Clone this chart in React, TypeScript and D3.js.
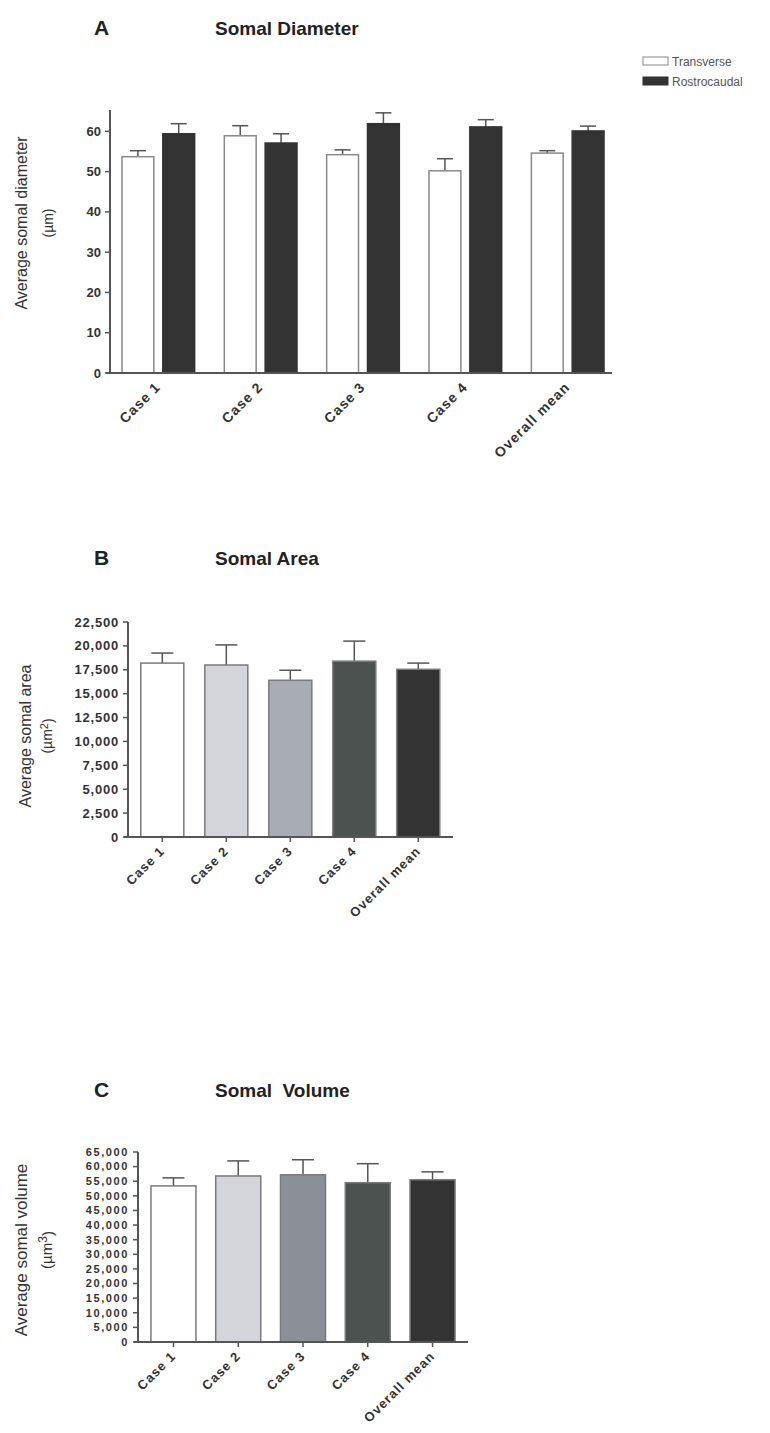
import React from 'react';
import * as d3 from 'd3';

// categories and series
const cases = ['Case 1', 'Case 2', 'Case 3', 'Case 4', 'Overall mean'];
const diameterSeries = ['Transverse', 'Rostrocaudal'];

// panel A: somal diameter (µm), mean and upper error (SEM)
const diameterTransverse = [53.7, 58.9, 54.2, 50.2, 54.6];
const diameterTransverseErr = [1.5, 2.5, 1.2, 3.0, 0.6];
const diameterRostro = [59.4, 57.1, 61.9, 61.1, 60.1];
const diameterRostroErr = [2.5, 2.3, 2.7, 1.8, 1.2];
const diameterTicks = [0, 10, 20, 30, 40, 50, 60];

// panel B: somal area (µm²)
const areaMeans = [18200, 18000, 16400, 18400, 17550];
const areaErr = [1050, 2100, 1050, 2100, 650];
const areaTicks = [0, 2500, 5000, 7500, 10000, 12500, 15000, 17500, 20000, 22500];

// panel C: somal volume (µm³)
const volumeMeans = [53400, 56800, 57200, 54500, 55500];
const volumeErr = [2750, 5150, 5150, 6500, 2700];
const volumeTicks = [0, 5000, 10000, 15000, 20000, 25000, 30000, 35000, 40000, 45000, 50000, 55000, 60000, 65000];

const diameterColors = ['#ffffff', '#333333'];
const areaColors = ['#ffffff', '#d4d5db', '#a8acb3', '#4b5250', '#333333'];
const volumeColors = ['#ffffff', '#d4d5db', '#8b9096', '#4b5250', '#333333'];

const FONT = '"Liberation Sans", Arial, Helvetica, sans-serif';
const AXIS = '#555';
const fmt = d3.format(',');

type PanelProps = {
  letter: string;
  title: string;
  titleY: number;
  axisX: number;
  y0: number;
  yTop: number;
  yMax: number;
  xEnd: number;
  ticks: number[];
  tickSize: number;
  tickSpacing: number;
  label: string;
  unitSup: string;
  labelX: number;
  labelY: number;
  unitX: number;
  labelSize: number;
  xLabelSize: number;
  xTicks: boolean;
};

const Frame = ({ p, x, children }: { p: PanelProps; x: d3.ScaleBand<string>; children: React.ReactNode }) => {
  const y = d3.scaleLinear().domain([0, p.yMax]).range([p.y0, p.yTop]);
  return (
    <g>
      <text x={94} y={p.titleY} fontSize={21} fontWeight="bold" fill="#222">{p.letter}</text>
      <text x={215} y={p.titleY} fontSize={19} fontWeight="bold" fill="#222" xmlSpace="preserve">{p.title}</text>
      {children}
      {/* y axis */}
      <line x1={p.axisX} x2={p.axisX} y1={p.y0} y2={p.yTop} stroke={AXIS} strokeWidth={2} />
      {p.ticks.map(t => (
        <g key={t} transform={`translate(${p.axisX},${y(t)})`}>
          <line x1={-5} x2={0} stroke={AXIS} strokeWidth={1.5} />
          <text x={-9} dy="0.35em" textAnchor="end" fontSize={p.tickSize} fontWeight="bold"
            letterSpacing={p.tickSpacing} fill="#333">{fmt(t)}</text>
        </g>
      ))}
      {/* x axis */}
      <line x1={p.axisX - 4} x2={p.xEnd} y1={p.y0} y2={p.y0} stroke={AXIS} strokeWidth={2} />
      {x.domain().map(c => {
        const cx = (x(c) ?? 0) + x.bandwidth() / 2;
        return (
          <g key={c}>
            {p.xTicks && <line x1={cx} x2={cx} y1={p.y0} y2={p.y0 + 5} stroke={AXIS} strokeWidth={1.5} />}
            <text transform={`translate(${cx + 3},${p.y0 + 15}) rotate(-45)`} textAnchor="end"
              fontSize={p.xLabelSize} fontWeight="bold" letterSpacing={1} fill="#333">{c}</text>
          </g>
        );
      })}
      {/* axis title */}
      <text transform={`translate(${p.labelX},${p.labelY}) rotate(-90)`} textAnchor="middle"
        fontSize={p.labelSize} fill="#333">{p.label}</text>
      <text transform={`translate(${p.unitX},${p.labelY}) rotate(-90)`} textAnchor="middle"
        fontSize={p.labelSize - 2} fill="#333">
        (µm{p.unitSup && <tspan dy="-0.4em" fontSize={p.labelSize - 5}>{p.unitSup}</tspan>}
        {p.unitSup ? <tspan dy="0.4em">)</tspan> : ')'}
      </text>
    </g>
  );
};

const ErrorBar = ({ cx, top, tip, half }: { cx: number; top: number; tip: number; half: number }) => (
  <g stroke={AXIS} strokeWidth={1.5}>
    <line x1={cx} x2={cx} y1={top} y2={tip} />
    <line x1={cx - half} x2={cx + half} y1={tip} y2={tip} />
  </g>
);

const SinglePanel = ({ p, means, errs, colors, range, padIn }: {
  p: PanelProps; means: number[]; errs: number[]; colors: string[]; range: [number, number]; padIn: number;
}) => {
  const x = d3.scaleBand<string>().domain(cases).range(range).paddingInner(padIn).paddingOuter(0.2);
  const y = d3.scaleLinear().domain([0, p.yMax]).range([p.y0, p.yTop]);
  return (
    <Frame p={p} x={x}>
      {cases.map((c, i) => {
        const bx = x(c) ?? 0;
        const cx = bx + x.bandwidth() / 2;
        return (
          <g key={c}>
            <ErrorBar cx={cx} top={y(means[i])} tip={y(means[i] + errs[i])} half={11} />
            <rect x={bx} y={y(means[i])} width={x.bandwidth()} height={p.y0 - y(means[i])}
              fill={colors[i]} stroke="#7a7a7a" strokeWidth={1.5} />
          </g>
        );
      })}
    </Frame>
  );
};

const DiameterPanel = ({ p }: { p: PanelProps }) => {
  const x = d3.scaleBand<string>().domain(cases).range([110, 616]).paddingInner(0.29).paddingOuter(0.117);
  const xs = d3.scaleBand<string>().domain(diameterSeries).range([0, x.bandwidth()]).paddingInner(0.22);
  const y = d3.scaleLinear().domain([0, p.yMax]).range([p.y0, p.yTop]);
  const series = [
    { means: diameterTransverse, errs: diameterTransverseErr },
    { means: diameterRostro, errs: diameterRostroErr },
  ];
  return (
    <Frame p={p} x={x}>
      {cases.map((c, i) => (
        <g key={c} transform={`translate(${x(c)},0)`}>
          {diameterSeries.map((s, j) => {
            const v = series[j].means[i];
            const bx = xs(s) ?? 0;
            return (
              <g key={s}>
                <ErrorBar cx={bx + xs.bandwidth() / 2} top={y(v)} tip={y(v + series[j].errs[i])} half={8} />
                <rect x={bx} y={y(v)} width={xs.bandwidth()} height={p.y0 - y(v)}
                  fill={diameterColors[j]} stroke={j === 0 ? '#8a8a8a' : '#333'} strokeWidth={1.5} />
              </g>
            );
          })}
        </g>
      ))}
      {/* legend */}
      {diameterSeries.map((s, j) => (
        <g key={s} transform={`translate(643,${57 + j * 20})`}>
          <rect width={25} height={8} fill={diameterColors[j]} stroke={j === 0 ? '#888' : '#333'} strokeWidth={1} />
          <text x={29} y={9} fontSize={12} fill="#555">{s}</text>
        </g>
      ))}
    </Frame>
  );
};

const panelA: PanelProps = {
  letter: 'A', title: 'Somal Diameter', titleY: 35, axisX: 110, y0: 373, yTop: 110, yMax: 65.3,
  xEnd: 612, ticks: diameterTicks, tickSize: 13, tickSpacing: 0, label: 'Average somal diameter',
  unitSup: '', labelX: 27, labelY: 223, unitX: 53, labelSize: 16, xLabelSize: 14, xTicks: false,
};
const panelB: PanelProps = {
  letter: 'B', title: 'Somal Area', titleY: 565, axisX: 128, y0: 837, yTop: 622, yMax: 22500,
  xEnd: 453, ticks: areaTicks, tickSize: 13, tickSpacing: 0.8, label: 'Average somal area',
  unitSup: '2', labelX: 31, labelY: 736, unitX: 52, labelSize: 16, xLabelSize: 13, xTicks: true,
};
const panelC: PanelProps = {
  letter: 'C', title: 'Somal  Volume', titleY: 1097, axisX: 138, y0: 1342, yTop: 1152, yMax: 65000,
  xEnd: 468, ticks: volumeTicks, tickSize: 11, tickSpacing: 1.6, label: 'Average somal volume',
  unitSup: '3', labelX: 27, labelY: 1250, unitX: 52, labelSize: 17, xLabelSize: 13, xTicks: true,
};

export default function App() {
  return (
    <svg width={770} height={1433} style={{ position: 'absolute', left: 0, top: 0, background: '#fff' }}
      fontFamily={FONT}>
      <rect width={770} height={1433} fill="#fff" />
      <DiameterPanel p={panelA} />
      <SinglePanel p={panelB} means={areaMeans} errs={areaErr} colors={areaColors} range={[128, 452.6]} padIn={0.328} />
      <SinglePanel p={panelC} means={volumeMeans} errs={volumeErr} colors={volumeColors} range={[138, 468]} padIn={0.305} />
    </svg>
  );
}
